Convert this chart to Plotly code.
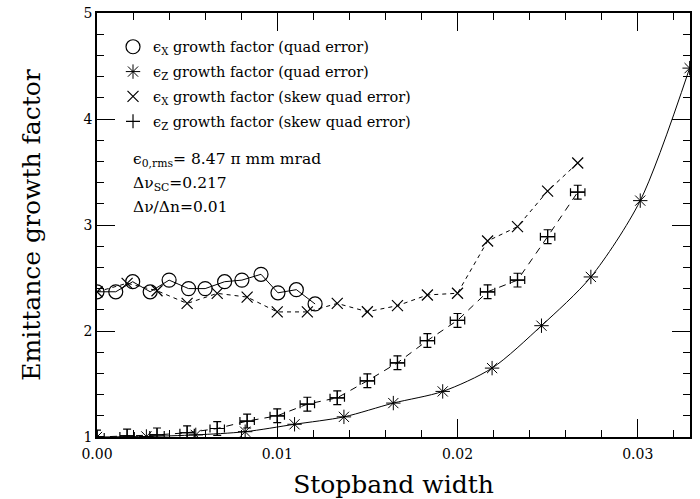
import plotly.graph_objects as go

# emittance growth vs stopband width
# quad error, horizontal plane (circles)
x_quad_ex = [0.0, 0.00104, 0.00198, 0.00295, 0.0040, 0.00508, 0.0060, 0.00708,
             0.00804, 0.0091, 0.01004, 0.01106, 0.0121]
y_quad_ex = [2.37, 2.37, 2.465, 2.37, 2.48, 2.40, 2.40, 2.465,
             2.48, 2.535, 2.36, 2.39, 2.255]

# quad error, vertical plane (asterisks, smooth curve)
x_quad_ez = [0.0, 0.00274, 0.00548, 0.00822, 0.01096, 0.0137, 0.01644, 0.01918,
             0.02192, 0.02466, 0.0274, 0.03014, 0.03288]
y_quad_ez = [1.0, 1.005, 1.02, 1.05, 1.12, 1.19, 1.32, 1.43,
             1.65, 2.05, 2.51, 3.23, 4.48]

# skew quad error, both planes
x_skew = [0.0, 0.00167, 0.00333, 0.005, 0.00667, 0.00833, 0.01, 0.01167, 0.01333,
          0.015, 0.01667, 0.01833, 0.02, 0.02167, 0.02333, 0.025, 0.02667]
y_skew_ex = [2.37, 2.45, 2.38, 2.26, 2.355, 2.32, 2.18, 2.18, 2.26,
             2.182, 2.239, 2.34, 2.356, 2.849, 2.984, 3.32, 3.585]
y_skew_ez = [1.0, 1.01, 1.02, 1.04, 1.08, 1.15, 1.20, 1.31, 1.37,
             1.53, 1.70, 1.91, 2.10, 2.37, 2.48, 2.89, 3.31]

x_ticks = [0.0, 0.01, 0.02, 0.03]
x_tick_labels = ["0.00", "0.01", "0.02", "0.03"]
y_ticks = [1, 2, 3, 4, 5]
y_tick_labels = ["1", "2", "3", "4", "5"]

legend_names = [
    "ϵ<sub>X</sub> growth factor (quad error)",
    "ϵ<sub>Z</sub> growth factor (quad error)",
    "ϵ<sub>X</sub> growth factor (skew quad error)",
    "ϵ<sub>Z</sub> growth factor (skew quad error)",
]
info_lines = [
    "ϵ<sub>0,rms</sub>= 8.47 π mm mrad",
    "Δν<sub>SC</sub>=0.217",
    "Δν/Δn=0.01",
]
info_y = [0.653, 0.597, 0.542]

FONT = "DejaVu Serif"
INK = "black"

fig = go.Figure()

# connecting lines (kept out of the legend)
fig.add_trace(go.Scatter(x=x_quad_ex, y=y_quad_ex, mode="lines",
                         line=dict(color=INK, width=1), showlegend=False))
fig.add_trace(go.Scatter(x=x_quad_ez, y=y_quad_ez, mode="lines",
                         line=dict(color=INK, width=1, shape="spline", smoothing=0.8),
                         showlegend=False))
fig.add_trace(go.Scatter(x=x_skew, y=y_skew_ex, mode="lines",
                         line=dict(color=INK, width=1, dash="4px,4px"), showlegend=False))
fig.add_trace(go.Scatter(x=x_skew, y=y_skew_ez, mode="lines",
                         line=dict(color=INK, width=1, dash="7px,6px"), showlegend=False))

# markers
fig.add_trace(go.Scatter(x=x_quad_ex, y=y_quad_ex, mode="markers", name=legend_names[0],
                         legendgroup="a",
                         marker=dict(symbol="circle-open", size=14, color=INK,
                                     line=dict(width=1.2, color=INK))))
fig.add_trace(go.Scatter(x=x_quad_ez, y=y_quad_ez, mode="markers", name=legend_names[1],
                         legendgroup="b",
                         marker=dict(symbol="asterisk-open", size=12, color=INK,
                                     line=dict(width=1, color=INK))))
fig.add_trace(go.Scatter(x=x_skew, y=y_skew_ex, mode="markers", name=legend_names[2],
                         legendgroup="c",
                         marker=dict(symbol="x-thin-open", size=11, color=INK,
                                     line=dict(width=1.2, color=INK))))
fig.add_trace(go.Scatter(x=x_skew, y=y_skew_ez, mode="markers", name=legend_names[3],
                         legendgroup="d",
                         marker=dict(symbol="cross-thin-open", size=10, color=INK,
                                     line=dict(width=1.2, color=INK)),
                         error_y=dict(type="constant", value=0.065, width=4,
                                      thickness=1.2, color=INK),
                         error_x=dict(type="constant", value=0.0004, width=4,
                                      thickness=1.2, color=INK)))

for txt, yy in zip(info_lines, info_y):
    fig.add_annotation(text=txt, xref="paper", yref="paper",
                       x=0.058, y=yy,
                       xanchor="left", yanchor="middle", showarrow=False,
                       font=dict(family=FONT, size=15.5, color=INK))

axis_common = dict(
    ticks="inside", ticklen=18, tickwidth=1.2, tickcolor=INK,
    showline=True, linecolor=INK, linewidth=1.5, mirror="allticks",
    showgrid=False, zeroline=False, automargin=False,
    tickfont=dict(family=FONT, size=14, color=INK),
)

fig.update_layout(
    width=700, height=499,
    margin=dict(l=97, r=10, t=13, b=62),
    paper_bgcolor="white", plot_bgcolor="white",
    font=dict(family=FONT, color=INK),
    xaxis=dict(range=[0, 0.0329], tickvals=x_ticks, ticktext=x_tick_labels,
               ticklabelstandoff=3,
               minor=dict(dtick=0.002, ticklen=7, tickwidth=1, tickcolor=INK, ticks="inside"),
               title=dict(text="Stopband width", font=dict(family=FONT, size=25, color=INK),
                          standoff=18),
               **axis_common),
    yaxis=dict(range=[1, 5], tickvals=y_ticks, ticktext=y_tick_labels,
               minor=dict(dtick=0.2, ticklen=7, tickwidth=1, tickcolor=INK, ticks="inside"),
               title=dict(text="Emittance growth factor", font=dict(family=FONT, size=25, color=INK),
                          standoff=36),
               **axis_common),
    legend=dict(x=0.027, y=0.958, xanchor="left", yanchor="top",
                bgcolor="rgba(0,0,0,0)", borderwidth=0,
                font=dict(family=FONT, size=14.5, color=INK),
                traceorder="grouped", tracegroupgap=3, itemwidth=30),
)

fig.write_html("out.html")
